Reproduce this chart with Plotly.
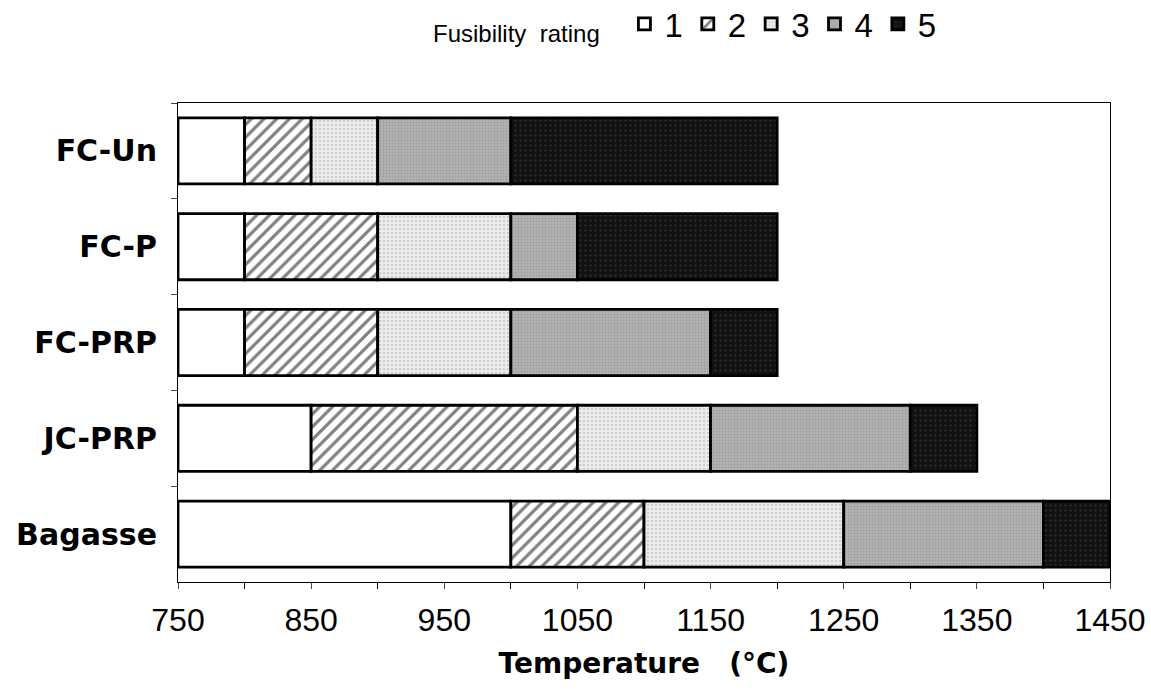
import plotly.graph_objects as go

categories = ["FC-Un", "FC-P", "FC-PRP", "JC-PRP", "Bagasse"]
start_temp = [750, 750, 750, 750, 750]
rating1_end = [800, 800, 800, 850, 1000]
rating2_end = [850, 900, 900, 1050, 1100]
rating3_end = [900, 1000, 1000, 1150, 1250]
rating4_end = [1000, 1050, 1150, 1300, 1400]
rating5_end = [1200, 1200, 1200, 1350, 1450]
rating_names = ["1", "2", "3", "4", "5"]
x_tickvals = [750, 850, 950, 1050, 1150, 1250, 1350, 1450]

ends = [rating1_end, rating2_end, rating3_end, rating4_end, rating5_end]
styles = [
    dict(color="white", pattern=dict(shape="")),
    dict(color="white", pattern=dict(shape="/", fgcolor="black", bgcolor="white", size=9, solidity=0.35)),
    dict(color="#e4e4e4", pattern=dict(shape=".", fgcolor="#b0b0b0", bgcolor="#ececec", size=4, solidity=0.3)),
    dict(color="#a8a8a8", pattern=dict(shape=".", fgcolor="#888888", bgcolor="#b4b4b4", size=3, solidity=0.4)),
    dict(color="#141414", pattern=dict(shape=".", fgcolor="#555555", bgcolor="#111111", size=5, solidity=0.15)),
]

fig = go.Figure()
prev = start_temp
for name, end, st in zip(rating_names, ends, styles):
    widths = [e - p for e, p in zip(end, prev)]
    fig.add_trace(go.Bar(
        y=categories, x=widths, base=prev, orientation="h", name=name,
        width=0.69,
        marker=dict(color=st["color"], pattern=st["pattern"],
                    line=dict(color="black", width=2.8)),
    ))
    prev = end

fig.add_annotation(
    text="Fusibility  rating", xref="paper", yref="paper",
    x=(602 - 178) / 932, xanchor="right", y=1.146, yanchor="middle",
    showarrow=False, font=dict(size=24, family="Liberation Sans, Arial, sans-serif"),
)

fig.update_layout(
    barmode="overlay",
    width=1151, height=690,
    margin=dict(l=178, r=41, t=103, b=108, autoexpand=False),
    paper_bgcolor="white", plot_bgcolor="white",
    font=dict(family="Liberation Sans, Arial, sans-serif", color="black"),
    showlegend=True,
    legend=dict(
        orientation="h", x=0.479, xanchor="left", y=1.165, yanchor="middle",
        font=dict(size=33), itemwidth=30, traceorder="normal",
        bgcolor="rgba(0,0,0,0)",
    ),
    xaxis=dict(
        range=[750, 1450], tickvals=x_tickvals, ticks="outside", ticklen=6,
        tickfont=dict(size=32), showgrid=False, zeroline=False,
        showline=True, linecolor="black", linewidth=1, mirror=True,
        ticklabelstandoff=4,
        minor=dict(dtick=50, tick0=750, ticks="outside", ticklen=6, tickcolor="black"),
        title=dict(text="<b>Temperature   (°C)</b>",
                   font=dict(size=28, family="DejaVu Sans, sans-serif"), standoff=15),
    ),
    yaxis=dict(
        categoryorder="array", categoryarray=categories, autorange="reversed",
        tickson="boundaries", ticks="outside", ticklen=6,
        tickfont=dict(size=30, family="DejaVu Sans, sans-serif"),
        showline=True, linecolor="black", linewidth=1, mirror=True,
        showgrid=False, ticklabelstandoff=14,
    ),
)
fig.update_yaxes(tickprefix="<b>", ticksuffix="</b>")

fig.write_html("out.html")
